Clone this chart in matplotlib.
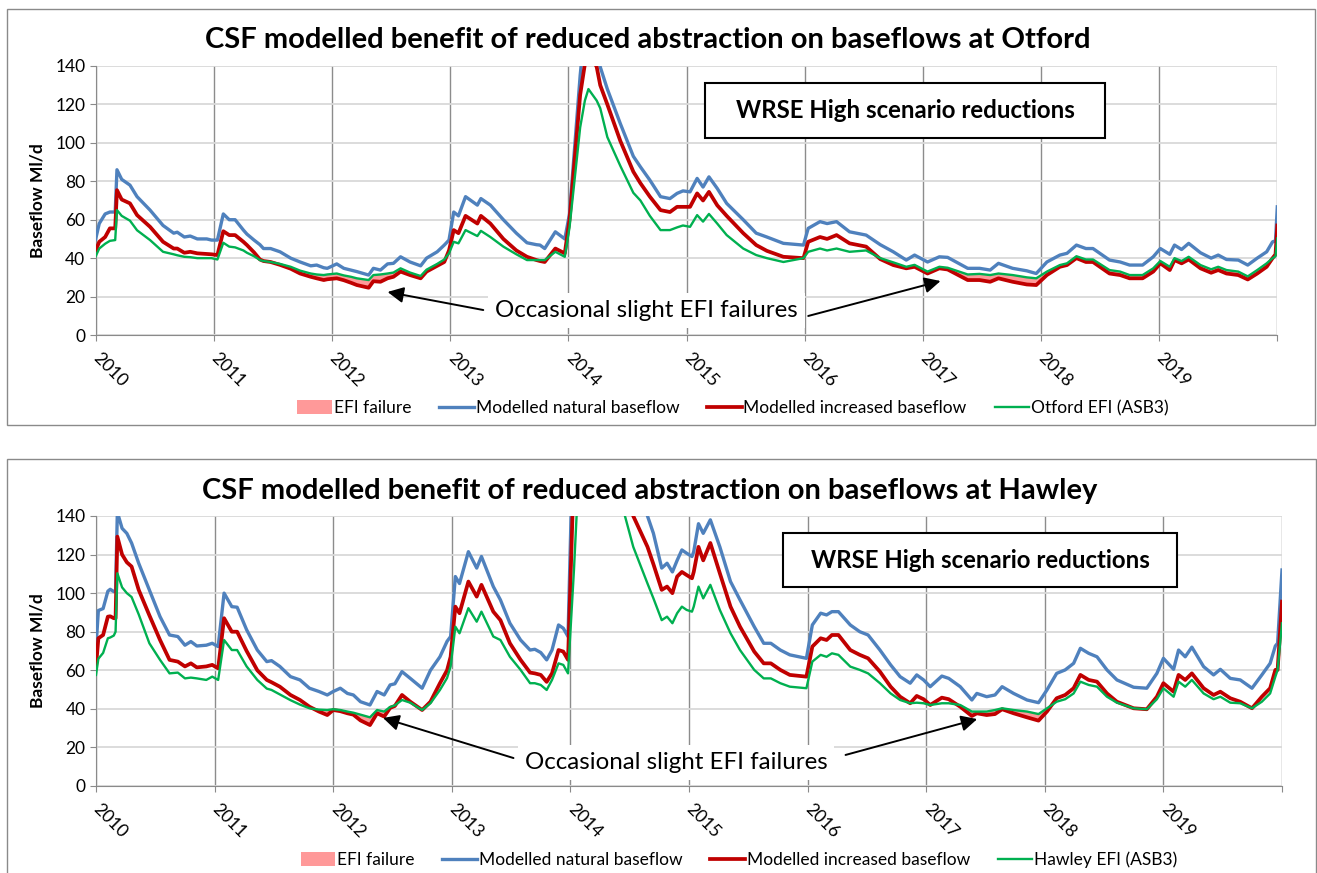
import numpy as np
import matplotlib
matplotlib.use("Agg")
import matplotlib.pyplot as plt
from matplotlib.lines import Line2D
from matplotlib.patches import Patch, Rectangle

plt.rcParams['font.family'] = ['Lato', 'DejaVu Sans']

# ---------------------------------------------------------------- data (Ml/d)
# Otford
T1 = ([2010.00, 2010.03, 2010.08, 2010.12, 2010.165, 2010.18, 2010.22, 2010.29, 2010.35, 2010.46,
       2010.57, 2010.66, 2010.69, 2010.75, 2010.80, 2010.86, 2010.94, 2010.98]
      + [2011.03, 2011.08, 2011.13, 2011.18, 2011.25, 2011.28, 2011.34, 2011.39, 2011.42, 2011.48,
         2011.56, 2011.65, 2011.73, 2011.82, 2011.87, 2011.93, 2011.96]
      + [2012.04, 2012.10, 2012.16, 2012.21, 2012.31, 2012.35, 2012.41, 2012.47, 2012.52, 2012.58,
         2012.66, 2012.75, 2012.80, 2012.89, 2012.95, 2012.99]
      + [2013.03, 2013.07, 2013.13, 2013.23, 2013.26, 2013.34, 2013.45, 2013.56, 2013.65, 2013.73,
         2013.76, 2013.80, 2013.89, 2013.97]
      + [2014.01, 2014.10, 2014.14, 2014.17, 2014.24, 2014.27, 2014.33, 2014.44, 2014.55, 2014.61,
         2014.69, 2014.78, 2014.86, 2014.92, 2014.97]
      + [2015.03, 2015.09, 2015.14, 2015.19, 2015.26, 2015.34, 2015.48, 2015.59, 2015.68, 2015.82, 2015.99]
      + [2016.03, 2016.13, 2016.19, 2016.27, 2016.38, 2016.52, 2016.64, 2016.75, 2016.86, 2016.93]
      + [2017.04, 2017.14, 2017.21, 2017.38, 2017.48, 2017.57, 2017.64, 2017.76, 2017.88, 2017.96]
      + [2018.05, 2018.16, 2018.22, 2018.30, 2018.38, 2018.44, 2018.58, 2018.67, 2018.75, 2018.86, 2018.95]
      + [2019.01, 2019.09, 2019.13, 2019.19, 2019.25, 2019.35, 2019.44, 2019.50, 2019.57, 2019.67,
         2019.75, 2019.83, 2019.91, 2019.96, 2019.985, 2020.0])
NAT1 = ([50, 58, 63, 64, 64, 86, 81, 78, 72, 65, 57, 53, 53.5, 51, 51.5, 50, 50, 49.4]
        + [49.4, 63, 60, 60, 54.6, 52.5, 49.4, 47, 45, 45, 43.3, 40, 38, 36, 36.4, 35, 34.7]
        + [37, 34.7, 33.8, 33, 31.2, 34.7, 33.8, 37, 37.3, 40.7, 38, 36, 40, 43.3, 46.8, 49.4]
        + [64, 62, 72, 67.6, 71, 67.6, 60, 53, 48, 47, 46.8, 45, 53.7, 50]
        + [63, 135, 160, 165, 145, 139.5, 128, 110, 93, 87.5, 80.6, 72, 71, 73.7, 75]
        + [74.5, 81.5, 77, 82.3, 76.3, 68.5, 60, 53, 51, 47.7, 46.8]
        + [55.5, 59, 58, 59, 53.7, 52, 47, 43.3, 39, 41.6]
        + [38, 40.7, 40.4, 34.7, 34.7, 33.8, 37.3, 34.7, 33.4, 32]
        + [38, 41.6, 42.5, 46.8, 45, 45, 39, 38, 36.4, 36.4, 40.7]
        + [45, 42, 46.8, 44.5, 47.7, 42.8, 40, 41.6, 39.3, 39, 36.4, 40, 43.3, 48.5, 49, 66.7])
INC1 = ([44, 48.5, 51, 55.5, 55.5, 75.4, 70.5, 68.5, 62.4, 56.3, 48.5, 45, 45, 42.8, 43.3, 42.5, 42.2, 42]
        + [41.6, 54, 52, 52, 48.5, 46.8, 43, 39.3, 38.5, 38, 36.5, 34.5, 32, 30.3, 29.5, 28.6, 29]
        + [29.5, 28.5, 27.2, 26, 24.6, 28, 27.7, 29.5, 30.3, 33, 31.2, 29.5, 33, 36, 38, 44]
        + [54.6, 53, 62, 58, 62, 58, 50, 44, 40.7, 39, 38.5, 38, 45, 42.5]
        + [60, 125, 141, 148, 139.5, 130, 120, 101, 85, 79, 72, 65, 64, 66.7, 66.7]
        + [66.7, 73.7, 70, 74.5, 67.5, 62, 53, 46.8, 43.8, 40.7, 40]
        + [48.5, 51, 50, 52, 47.7, 46, 39.5, 36.4, 34.7, 35.5]
        + [32, 34.7, 34.1, 28.6, 28.6, 27.7, 29.5, 27.7, 26.3, 26]
        + [31.2, 35.5, 36.4, 40, 38, 38, 32, 31.2, 29.5, 29.5, 33]
        + [37.3, 33.8, 39, 37.3, 39.3, 34.7, 32.4, 33.8, 32, 31.2, 28.9, 32, 35.5, 40, 42, 57])
EFI1 = ([41, 45, 47.5, 49, 49.4, 65, 62, 59.5, 54.5, 49.4, 43.3, 42, 41.5, 40.7, 40.5, 40, 40, 40]
        + [39.3, 48, 46, 45.6, 44, 42.8, 41, 39, 38.5, 38, 37, 35.5, 33.5, 32, 31.5, 31.2, 31.5]
        + [32, 31, 30.3, 29.5, 28.6, 31.2, 31.5, 32, 32.5, 34.7, 32.5, 30.7, 34, 37, 39.3, 42.5]
        + [48.5, 47.7, 54.6, 51.5, 54.2, 51, 46, 42, 39, 39, 39, 39, 43.3, 40.7]
        + [56, 108, 122, 128, 122, 118, 103, 88, 74, 70, 62, 54.6, 54.6, 56, 57]
        + [56.3, 62.4, 59, 63, 58, 52, 45, 41.6, 40, 38, 40]
        + [43.3, 45, 44, 45, 43.3, 44, 40, 37.8, 35.5, 36.5]
        + [33, 35.5, 35, 31.5, 31.8, 31.2, 32, 31.2, 30, 29.5]
        + [33, 36.4, 37.3, 41, 39.3, 39.3, 33.8, 33, 31.2, 31.2, 34.7]
        + [38.5, 35.5, 40, 38.5, 40.7, 36.4, 34.2, 35.5, 33.8, 33, 30.5, 33.8, 37.3, 40, 41, 50.3])

# Hawley
T2 = ([2010.00, 2010.02, 2010.06, 2010.10, 2010.12, 2010.15, 2010.165, 2010.18, 2010.22, 2010.26,
       2010.30, 2010.36, 2010.45, 2010.54, 2010.62, 2010.69, 2010.75, 2010.80, 2010.85, 2010.93, 2010.98]
      + [2011.03, 2011.08, 2011.145, 2011.19, 2011.27, 2011.36, 2011.44, 2011.48, 2011.55, 2011.64,
         2011.72, 2011.80, 2011.88, 2011.95]
      + [2012.00, 2012.06, 2012.12, 2012.17, 2012.23, 2012.31, 2012.37, 2012.43, 2012.48, 2012.52,
         2012.58, 2012.65, 2012.75, 2012.82, 2012.90, 2012.96, 2012.99]
      + [2013.03, 2013.065, 2013.14, 2013.21, 2013.25, 2013.35, 2013.41, 2013.49, 2013.58, 2013.66,
         2013.70, 2013.75, 2013.80, 2013.845, 2013.90, 2013.94, 2013.98]
      + [2014.03, 2014.06, 2014.25, 2014.46, 2014.53, 2014.65, 2014.70, 2014.77, 2014.815, 2014.86,
         2014.90, 2014.94, 2014.98]
      + [2015.025, 2015.04, 2015.08, 2015.12, 2015.18, 2015.26, 2015.35, 2015.43, 2015.55, 2015.63,
         2015.69, 2015.77, 2015.85, 2015.99]
      + [2016.04, 2016.11, 2016.16, 2016.205, 2016.26, 2016.36, 2016.44, 2016.51, 2016.61, 2016.70,
         2016.78, 2016.865, 2016.92, 2016.978]
      + [2017.034, 2017.132, 2017.19, 2017.287, 2017.385, 2017.427, 2017.51, 2017.58, 2017.64, 2017.737,
         2017.85, 2017.947]
      + [2018.018, 2018.10, 2018.172, 2018.243, 2018.30, 2018.37, 2018.44, 2018.524, 2018.608, 2018.749,
         2018.86, 2018.945]
      + [2019.0, 2019.086, 2019.128, 2019.184, 2019.24, 2019.339, 2019.423, 2019.48, 2019.564, 2019.648,
         2019.747, 2019.83, 2019.90, 2019.944, 2019.963, 2020.0])
NAT2 = ([72, 91, 92, 101, 102, 100.8, 101, 142, 133.6, 131, 126, 115.5, 101.7, 87.8, 78.3, 77.5, 73, 74.9, 72.6, 73, 74]
        + [72.3, 100, 93, 92.7, 81, 70.5, 64.5, 65, 62, 56.7, 55, 50.7, 49, 47.2]
        + [49, 50.7, 48, 47.2, 43.7, 42, 49, 47.2, 52.4, 53, 59.3, 55.8, 50.7, 60, 67, 75, 77.5]
        + [108.6, 105, 121.5, 113, 119, 103.4, 96.5, 84.4, 75.7, 70.5, 70.9, 69.2, 65.4, 70.5, 83.5, 81.8, 77.5]
        + [200, 215, 230, 180, 160, 140, 131, 113, 115.5, 111, 117, 122.4, 120.7]
        + [119, 121.5, 136, 131, 138, 124, 106, 96.5, 82.6, 74, 74, 70.5, 68, 66.2]
        + [83.5, 89.6, 88.7, 90.4, 90.4, 83.5, 80, 78.3, 70.5, 62.8, 56.7, 53.3, 57.6, 55]
        + [51.5, 57, 55.8, 51.5, 44.6, 48, 46.3, 47.2, 51.5, 48, 44.6, 43.2]
        + [49.8, 58.4, 60.2, 63.6, 71.4, 68.8, 67, 60.2, 55, 51.2, 50.7, 58.4]
        + [66.2, 60.5, 70.5, 67, 72, 61.9, 57.6, 60.5, 55.8, 55, 50.7, 57.6, 63.6, 72.6, 74, 112])
INC2 = ([62, 76.6, 78.3, 87.8, 88, 87, 87, 129.3, 120, 116, 113.8, 101.7, 88.5, 75.7, 65.4, 64.5, 62, 63.6, 61.5, 62, 62.8]
        + [61, 87, 80, 80, 70, 60, 55, 53.8, 51.5, 47.2, 44.6, 41.1, 38.6, 36.8]
        + [39.4, 38.8, 37.7, 37, 34, 31.6, 37.7, 36, 40.5, 41.5, 47.2, 43.7, 39.4, 43.7, 53.3, 60, 67]
        + [93, 89.6, 106, 98.2, 104.3, 90.4, 86, 74, 65.4, 58.8, 58.4, 57.6, 54, 58.4, 70.5, 69.7, 65.4]
        + [165, 190, 210, 160, 140, 124, 115, 101.7, 103.4, 100, 108.6, 111, 109.4]
        + [107.7, 111, 124, 117, 126, 110.3, 93, 82.6, 69.7, 63.6, 63.6, 60.2, 57.6, 56.7]
        + [72.3, 76.6, 75.7, 78.3, 78.3, 70.5, 68, 66.2, 59.3, 51.5, 46.3, 42.9, 46.7, 45]
        + [42, 45.8, 45, 41.1, 36.3, 37.7, 36.8, 37.3, 39.8, 37.7, 35.6, 33.9]
        + [38.6, 45.5, 47.2, 50.7, 57.6, 55, 54.1, 48, 43.7, 40.3, 39.8, 46.3]
        + [53.3, 48.9, 57.6, 55, 58.4, 50.7, 47.2, 48.9, 45.5, 43.7, 40.3, 46.3, 50.7, 60.2, 60.2, 95.6])
EFI2 = ([57.6, 66, 69, 76.6, 77, 78, 80, 110.3, 103, 100, 98, 89, 74, 65.4, 58.4, 58.8, 55.8, 56.2, 55.8, 55, 56.7]
        + [55, 75.7, 70.5, 70.5, 62, 55, 50.5, 49.8, 47.5, 44.5, 42.2, 40.3, 39.6, 39.4]
        + [39.8, 39.4, 38.6, 38, 37, 35.6, 39.4, 38.6, 41, 41.8, 44.6, 43.2, 39.4, 42.9, 49.8, 56, 62]
        + [82.6, 79.2, 92.2, 85.2, 90.4, 77.5, 75.7, 67, 60.2, 53.3, 53.3, 52.4, 49.8, 55, 63.6, 62.8, 58.4]
        + [112, 150, 190, 140, 124, 105, 97.3, 86, 87.8, 84.4, 89.6, 93, 91.3]
        + [90.4, 93, 103.4, 97.3, 104.3, 91.3, 79.2, 70.5, 60.2, 55.8, 55.8, 53.3, 51.5, 50.7]
        + [64.5, 68, 67, 68.8, 68, 61.9, 60.2, 58.4, 53.3, 48, 44.6, 42.9, 43.2, 42.9]
        + [42, 42.9, 42.9, 42, 38.6, 38.6, 38.6, 39.4, 40.3, 39.4, 38.6, 37.3]
        + [40.3, 43.7, 45, 48, 54.1, 52.4, 51.5, 46.3, 43.2, 40.3, 39.8, 45]
        + [50.7, 46.3, 54.1, 51.5, 55, 48, 45, 46.3, 43.2, 42.9, 40.3, 43.7, 48, 56.7, 60.2, 84.4])

YEARS = list(range(2010, 2021))
YTICKS = list(range(0, 141, 20))

C_NAT, C_INC, C_EFI, C_FAIL = "#4F81BD", "#C00000", "#00B050", "#FF9999"

W, H = 1317, 873
fig = plt.figure(figsize=(W / 100, H / 100), dpi=100)

def fx(px):
    return px / W

def fy(py):
    return 1 - py / H

PANELS = [
    dict(T=T1, NAT=NAT1, INC=INC1, EFI=EFI1, site="Otford",
         frame=(7, 9, 1315, 425), axes=(95.7, 66, 1277.3, 335), title_xy=(648, 40),
         box=(705, 83, 1105, 138), legend_xy=(733, 408),
         note_xy=(2014.66, 12.5), arrows=[((2013.28, 13.0), (2012.47, 22.4)),
                                          ((2016.03, 9.9), (2017.15, 28.1))]),
    dict(T=T2, NAT=NAT2, INC=INC2, EFI=EFI2, site="Hawley",
         frame=(7, 459, 1316, 880), axes=(96, 516, 1282, 786), title_xy=(650, 491),
         box=(783, 533, 1177, 587), legend_xy=(739, 860),
         note_xy=(2014.89, 12.4), arrows=[((2013.52, 14.5), (2012.42, 35.3)),
                                          ((2016.32, 16.1), (2017.43, 34.7))]),
]

for p in PANELS:
    assert len(p["T"]) == len(p["NAT"]) == len(p["INC"]) == len(p["EFI"])
    x0, y0, x1, y1 = p["frame"]
    fig.patches.append(Rectangle((fx(x0), fy(y1)), fx(x1 - x0), (y1 - y0) / H, transform=fig.transFigure,
                                 fill=False, edgecolor="#8A8A8A", lw=1.0, clip_on=False))
    a0, b0, a1, b1 = p["axes"]
    ax = fig.add_axes([fx(a0), fy(b1), fx(a1 - a0), (b1 - b0) / H])
    t = np.array(p["T"]); inc = np.array(p["INC"]); efi = np.array(p["EFI"])

    ax.fill_between(t, inc, efi, where=inc < efi, interpolate=True, color=C_FAIL, lw=0, zorder=2)
    ax.plot(t, p["NAT"], color=C_NAT, lw=2.4, zorder=3)
    ax.plot(t, inc, color=C_INC, lw=2.7, zorder=4)
    ax.plot(t, efi, color=C_EFI, lw=1.7, zorder=5)

    ax.set_xlim(2010, 2020)
    ax.set_ylim(0, 140)
    ax.set_yticks(YTICKS)
    ax.set_xticks(YEARS)
    ax.set_xticklabels([str(y) if y < 2020 else "" for y in YEARS], rotation=-45,
                       ha="left", va="center", rotation_mode="anchor")
    ax.tick_params(axis="both", direction="out", length=4, color="#8A8A8A", labelsize=12.5)
    ax.tick_params(axis="x", pad=11, labelsize=12.6)
    ax.set_axisbelow(True)
    ax.grid(axis="y", color="#D9D9D9", lw=1.3)
    ax.grid(axis="x", color="#8C8C8C", lw=1.0)
    for s in ("top", "right"):
        ax.spines[s].set_visible(False)
    for s in ("left", "bottom"):
        ax.spines[s].set_color("#8A8A8A")
    ax.set_ylabel("Baseflow Ml/d", fontsize=12.5, fontweight="bold", labelpad=7)

    fig.text(fx(p["title_xy"][0]), fy(p["title_xy"][1]),
             f"CSF modelled benefit of reduced abstraction on baseflows at {p['site']}",
             ha="center", va="center", fontsize=21, fontweight="bold")

    bx0, by0, bx1, by1 = p["box"]
    fig.patches.append(Rectangle((fx(bx0), fy(by1)), fx(bx1 - bx0), (by1 - by0) / H,
                                 transform=fig.transFigure, facecolor="white",
                                 edgecolor="black", lw=1.5))
    fig.text(fx((bx0 + bx1) / 2), fy((by0 + by1) / 2), "WRSE High scenario reductions",
             ha="center", va="center", fontsize=17.3, fontweight="bold", zorder=5)

    ax.text(p["note_xy"][0], p["note_xy"][1], "Occasional slight EFI failures", ha="center",
            va="center", fontsize=17.4, zorder=6,
            bbox=dict(facecolor="white", edgecolor="none", pad=5))
    for tail, tip in p["arrows"]:
        ax.annotate("", xy=tip, xytext=tail, zorder=7,
                    arrowprops=dict(arrowstyle="-|>", color="black", lw=1.4,
                                    mutation_scale=24, shrinkA=0, shrinkB=0))

    handles = [
        Patch(facecolor=C_FAIL, edgecolor="none", label="EFI failure"),
        Line2D([0], [0], color=C_NAT, lw=2.4, label="Modelled natural baseflow"),
        Line2D([0], [0], color=C_INC, lw=2.7, label="Modelled increased baseflow"),
        Line2D([0], [0], color=C_EFI, lw=1.7, label=f"{p['site']} EFI (ASB3)"),
    ]
    fig.legend(handles=handles, loc="center", ncol=4, frameon=False, fontsize=12.5,
               bbox_to_anchor=(fx(p["legend_xy"][0]), fy(p["legend_xy"][1])),
               handlelength=2.0, handletextpad=0.1, columnspacing=1.6, handleheight=0.9)

fig.savefig("out.png", dpi=100)
